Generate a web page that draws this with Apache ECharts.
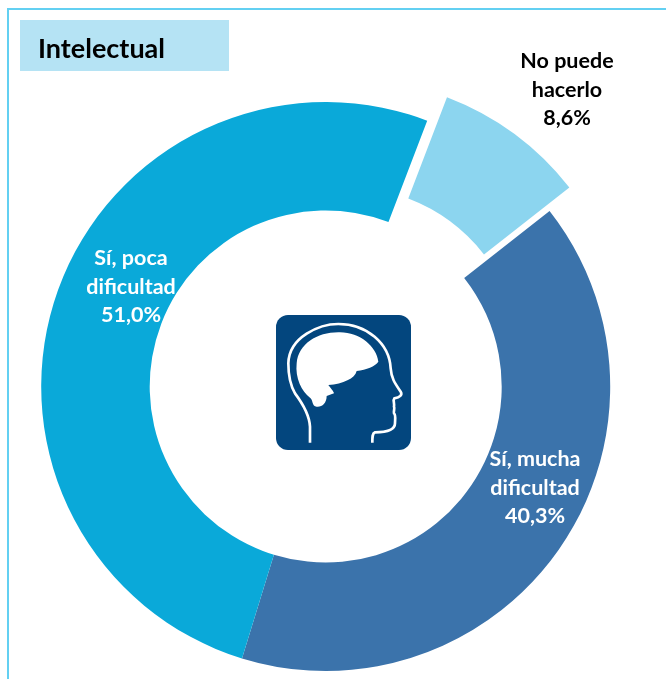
<!DOCTYPE html>
<html>
<head>
<meta charset="utf-8">
<title>Intelectual</title>
<script src="https://cdn.jsdelivr.net/npm/echarts@6/dist/echarts.min.js"></script>
<style>
  html, body { margin: 0; padding: 0; background: #fff; }
  #chart { width: 666px; height: 679px; }
</style>
</head>
<body>
<div id="chart"></div>
<script>
const titleText = 'Intelectual';
const categories = ['No puede\nhacerlo', 'Sí, mucha\ndificultad', 'Sí, poca\ndificultad'];
const values = [8.6, 40.3, 51.0];
const sliceColors = ['#8cd5ef', '#3b73ab', '#0aa9d9'];
const labelColors = ['#000000', '#ffffff', '#ffffff'];
const labelCenters = [[567, 90], [535, 488], [131, 287]];

// Head icon, drawn at 3x and scaled down
const headLine = 'M150 428 L150 380 C148 340 120 300 105 280 C92 258 85 225 85 190 C87 110 180 72 235 72 C320 72 388 130 392 205 C394 235 405 250 422 275 C428 285 420 292 403 295 C398 300 404 310 402 320 C405 325 400 335 402 340 C408 345 405 360 405 370 C405 390 385 397 345 397 C337 400 337 410 337 428';
const brain = 'M110 190 C115 130 175 95 240 97 C300 97 350 140 355 185 C345 200 320 208 290 213 C285 235 250 252 205 255 C210 262 222 275 222 280 L200 288 C200 310 185 322 170 320 C155 318 160 300 150 293 C125 275 105 235 110 190 Z';

echarts.graphic.registerShape('headLine', echarts.graphic.extendPath(headLine));
echarts.graphic.registerShape('brain', echarts.graphic.extendPath(brain));

const chart = echarts.init(document.getElementById('chart'), null, {renderer: 'canvas'});

// Same ring twice: the pulled out slice sits in its own series, moved up and right.
function ringSeries(center, isShown) {
  return {
    type: 'pie',
    center: center,
    radius: [176, 284.5],
    startAngle: 69.1,
    clockwise: true,
    silent: true,
    label: {
      position: 'inside',
      fontFamily: 'Lato',
      fontWeight: 'bold',
      fontSize: 21.5,
      lineHeight: 28.5,
      formatter: function (p) {
        return p.name + '\n' + p.value.toFixed(1).replace('.', ',') + '%';
      }
    },
    labelLine: {show: false},
    labelLayout: function (p) {
      return {x: labelCenters[p.dataIndex][0], y: labelCenters[p.dataIndex][1], align: 'center', verticalAlign: 'middle'};
    },
    data: categories.map(function (name, i) {
      return {
        name: name,
        value: values[i],
        itemStyle: {color: isShown(i) ? sliceColors[i] : 'transparent'},
        label: {show: isShown(i), color: labelColors[i]}
      };
    })
  };
}

chart.setOption({
  animation: false,
  graphic: [
    {type: 'rect', silent: true, z: -1, shape: {x: 8, y: 9, width: 700, height: 700}, style: {fill: '#fff', stroke: '#63d0f2', lineWidth: 2}},
    {type: 'rect', silent: true, shape: {x: 20, y: 20, width: 209, height: 51}, style: {fill: '#b5e3f4'}},
    {type: 'text', silent: true, x: 38, y: 49, style: {text: titleText, fill: '#000', font: 'bold 27px Lato', textVerticalAlign: 'middle'}},
    {type: 'rect', silent: true, z: 5, shape: {x: 276, y: 315, width: 135, height: 135, r: 12}, style: {fill: '#03467e'}},
    {type: 'headLine', silent: true, z: 6, x: 260, y: 300, scaleX: 1 / 3, scaleY: 1 / 3, style: {fill: 'none', stroke: '#fff', lineWidth: 8}},
    {type: 'brain', silent: true, z: 6, x: 260, y: 300, scaleX: 1 / 3, scaleY: 1 / 3, style: {fill: '#fff'}}
  ],
  series: [
    ringSeries([325.7, 386.5], function (i) { return i !== 0; }),
    ringSeries([345.5, 363], function (i) { return i === 0; })
  ]
});
</script>
</body>
</html>
